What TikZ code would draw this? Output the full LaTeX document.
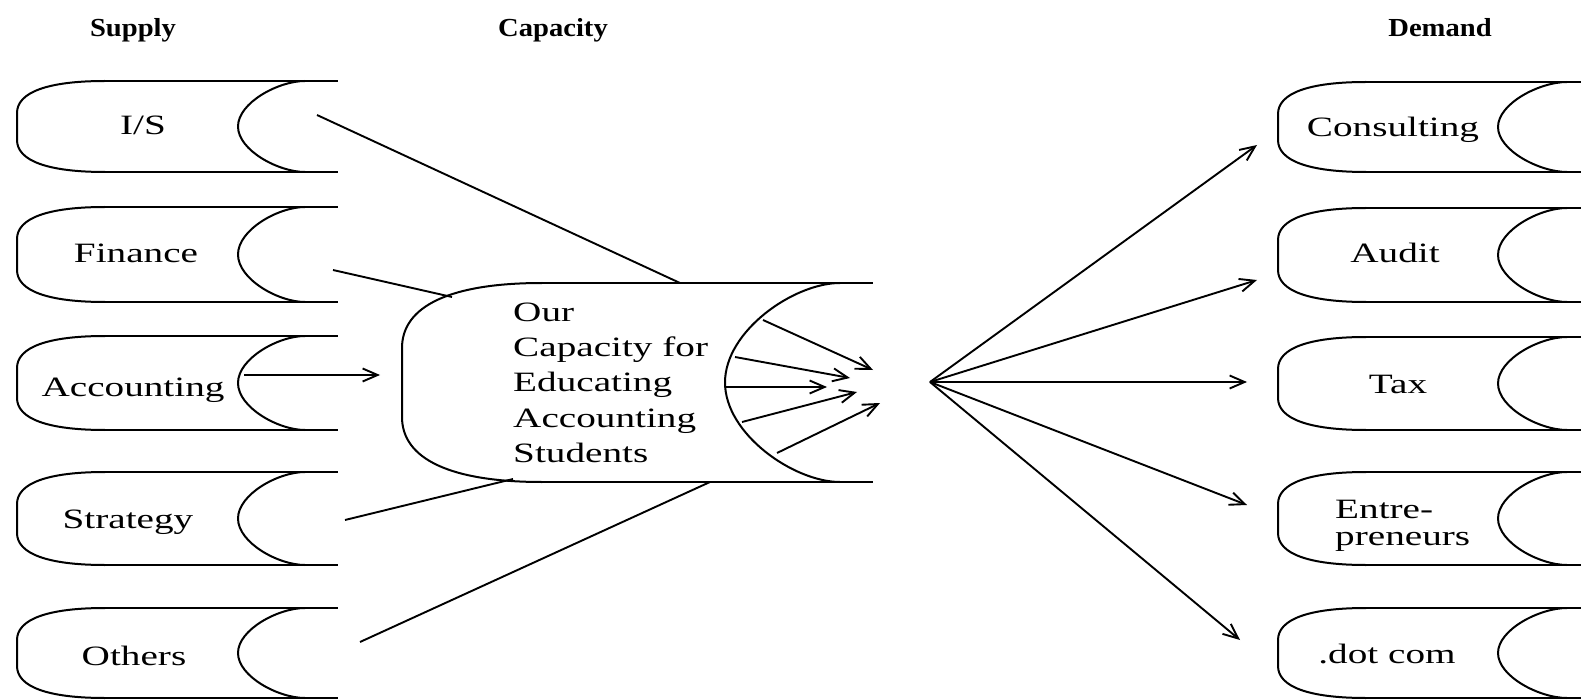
\documentclass[tikz,border=0pt]{standalone}
\usepackage{fontspec}
\usepackage{graphicx}
\setmainfont{Liberation Serif}
\usetikzlibrary{arrows.meta}
\newcommand\sx[1]{\scalebox{1.4}[1]{#1}}
\newcommand\hx[1]{\scalebox{1.1}[1]{#1}}
% L T B Cx rx R lrx lry
\newcommand\cylbox[8]{%
  \draw[boxline] (#1+#7,#2) -- (#6,#2);
  \draw[boxline] (#1+#7,#3) -- (#6,#3);
  \draw[boxline] (#1+#7,#2) .. controls (#1+0.35*#7,#2) and (#1,#2+0.35*#8) .. (#1,#2+#8)
     -- (#1,#3-#8) .. controls (#1,#3-0.35*#8) and (#1+0.35*#7,#3) .. (#1+#7,#3);
  \draw[boxline] (#4,#2) .. controls (#4-0.4*#5,#2) and (#4-#5,{0.5*(#2+#3)-0.26*(#3-#2)}) .. (#4-#5,{0.5*(#2+#3)})
     .. controls (#4-#5,{0.5*(#2+#3)+0.26*(#3-#2)}) and (#4-0.4*#5,#3) .. (#4,#3);
}
\begin{document}
\begin{tikzpicture}[x=1pt,y=-1pt,line join=round,
  boxline/.style={line width=2pt},
  conn/.style={line width=1.9pt},
  arr/.style={conn,-{Straight Barb[length=15pt,width=13pt]}},
  lab/.style={inner sep=0pt,anchor=base,font=\fontsize{28}{34}\selectfont},
  head/.style={inner sep=0pt,anchor=base,font=\bfseries\fontsize{26}{30}\selectfont}]
\useasboundingbox (0,0) rectangle (1581,700);
\clip (0,0) rectangle (1581,700);
\fill[white] (0,0) rectangle (1581,700);

% headers
\node[head] (hs) at (133,37) {\hx{Supply}};
\node[head] (hc) at (553,37) {\hx{Capacity}};
\node[head] (hd) at (1440,37) {\hx{Demand}};

% supply boxes
\cylbox{17}{81}{172}{305}{67}{338}{88}{32}
\cylbox{17}{207}{302}{305}{67}{338}{88}{32}
\cylbox{17}{336}{430}{305}{67}{338}{88}{32}
\cylbox{17}{472}{565}{305}{67}{338}{88}{32}
\cylbox{17}{608}{698}{305}{67}{338}{88}{32}
% demand boxes
\cylbox{1278}{82}{172}{1567}{69}{1620}{88}{32}
\cylbox{1278}{208}{302}{1567}{69}{1620}{88}{32}
\cylbox{1278}{337}{430}{1567}{69}{1620}{88}{32}
\cylbox{1278}{472}{565}{1567}{69}{1620}{88}{32}
\cylbox{1278}{608}{698}{1567}{69}{1620}{88}{32}
% capacity box
\cylbox{402}{283}{482}{840}{115}{873}{140}{65}

% labels
\node[lab] (is)  at (143,135) {\sx{I/S}};
\node[lab] (fin) at (136,263) {\sx{Finance}};
\node[lab] (acc) at (133,396) {\sx{Accounting}};
\node[lab] (str) at (128,528) {\sx{Strategy}};
\node[lab] (oth) at (134,665) {\sx{Others}};
\node[lab] (con) at (1393,137) {\sx{Consulting}};
\node[lab] (aud) at (1395,263) {\sx{Audit}};
\node[lab] (tax) at (1398,393) {\sx{Tax}};
\node[lab,anchor=base west] (ent) at (1335,518) {\sx{\fontsize{28}{27}\selectfont\begin{tabular}[t]{@{}l@{}}Entre-\\preneurs\end{tabular}}};
\node[lab] (dot) at (1387,663) {\sx{.dot com}};
\node[lab,anchor=base west] (cap) at (513,322) {\sx{\fontsize{28}{35}\selectfont\begin{tabular}[t]{@{}l@{}}Our\\Capacity for\\Educating\\Accounting\\Students\end{tabular}}};

% supply connectors
\coordinate (isS) at (317,115);  \coordinate (isE) at (680,283);
\coordinate (finS) at (333,270); \coordinate (finE) at (452,297);
\coordinate (accS) at (244,375); \coordinate (accE) at (380,375);
\coordinate (strS) at (345,520); \coordinate (strE) at (513,479);
\coordinate (othS) at (360,642); \coordinate (othE) at (710,482);
\draw[conn] (isS) -- (isE);
\draw[conn] (finS) -- (finE);
\draw[arr] (accS) -- (accE);
\draw[conn] (strS) -- (strE);
\draw[conn] (othS) -- (othE);

% inner arrows
\coordinate (c1s) at (763,320); \coordinate (c1e) at (873,370);
\coordinate (c2s) at (735,357); \coordinate (c2e) at (850,378);
\coordinate (c3s) at (725,387); \coordinate (c3e) at (827,387);
\coordinate (c4s) at (742,422); \coordinate (c4e) at (857,392);
\coordinate (c5s) at (777,453); \coordinate (c5e) at (880,403);
\foreach \i in {1,...,5} {\draw[arr] (c\i s) -- (c\i e);}

% demand arrows
\coordinate (hub) at (930,382);
\coordinate (t1) at (1257,145);
\coordinate (t2) at (1257,280);
\coordinate (t3) at (1247,382);
\coordinate (t4) at (1247,505);
\coordinate (t5) at (1240,640);
\foreach \i in {1,...,5} {\draw[arr] (hub) -- (t\i);}
\end{tikzpicture}
\end{document}
